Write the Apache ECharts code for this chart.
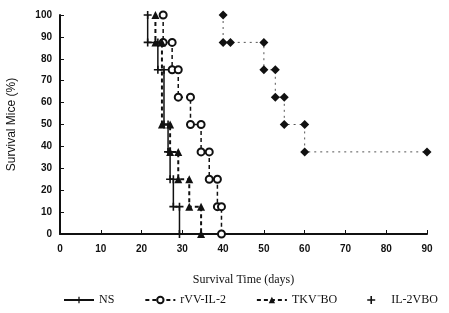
<!DOCTYPE html>
<html>
<head>
<meta charset="utf-8">
<script src="https://cdn.jsdelivr.net/npm/echarts@6/dist/echarts.min.js"></script>
<style>
  html, body { margin: 0; padding: 0; background: #fff; }
  #chart { width: 449px; height: 313px; }
</style>
</head>
<body>
<div id="chart"></div>
<script>
// step points of each survival curve (day, % surviving)
const nsDays   = [21.5, 21.5, 24, 24, 25.5, 25.5, 26.5, 26.5, 27, 27, 27.8, 27.8, 29.3, 29.3];
const nsSurv   = [100, 87.5, 87.5, 75, 75, 50, 50, 37.5, 37.5, 25, 25, 12.5, 12.5, 0];
const rvvDays  = [25.3, 25.3, 27.5, 27.5, 29, 29, 32, 32, 34.6, 34.6, 36.6, 36.6, 38.6, 38.6, 39.6, 39.6];
const rvvSurv  = [100, 87.5, 87.5, 75, 75, 62.5, 62.5, 50, 50, 37.5, 37.5, 25, 25, 12.5, 12.5, 0];
const tkvDays  = [23.4, 23.4, 25, 25, 27, 27, 29, 29, 31.7, 31.7, 34.6, 34.6];
const tkvSurv  = [100, 87.5, 87.5, 50, 50, 37.5, 37.5, 25, 25, 12.5, 12.5, 0];
const il2Days  = [40, 40, 41.8, 50, 50, 52.8, 52.8, 55, 55, 60, 60, 90];
const il2Surv  = [100, 87.5, 87.5, 87.5, 75, 75, 62.5, 62.5, 50, 50, 37.5, 37.5];
const names = ['NS', 'rVV-IL-2', 'TKV\u207BBO', 'IL-2VBO'];

const plus = 'path://M4,0h2v4h4v2h-4v4h-2v-4h-4v-2h4z';
const zip = (xs, ys) => xs.map((x, i) => [x, ys[i]]);

const chart = echarts.init(document.getElementById('chart'));
let option = {
  animation: false,
  grid: { left: 60, right: 22, top: 15, bottom: 79, containLabel: false, outerBoundsMode: 'none' },
  legend: {
    left: 58,
    top: 289,
    itemWidth: 30,
    itemHeight: 8,
    itemGap: 30,
    textStyle: { fontFamily: 'Liberation Serif', fontSize: 12, color: '#111' },
    data: [
      { name: names[0] },
      { name: names[1] },
      { name: names[2] },
      { name: names[3], icon: plus, itemStyle: { color: '#111' } }
    ]
  },
  xAxis: {
    type: 'value',
    min: 0, max: 90, interval: 10,
    name: 'Survival Time (days)',
    nameLocation: 'middle',
    nameGap: 40,
    nameTextStyle: { fontFamily: 'Liberation Serif', fontSize: 12, color: '#111' },
    axisLine: { lineStyle: { color: '#111', width: 2 } },
    axisTick: { inside: true, length: 4, lineStyle: { color: '#111' } },
    axisLabel: { margin: 10, fontFamily: 'Liberation Sans', fontWeight: 'bold', fontSize: 10, color: '#111' },
    splitLine: { show: false }
  },
  yAxis: {
    type: 'value',
    min: 0, max: 100, interval: 10,
    name: 'Survival Mice (%)',
    nameLocation: 'middle',
    nameGap: 42,
    nameTextStyle: { fontFamily: 'Liberation Sans', fontSize: 12, color: '#111' },
    axisLine: { show: true, lineStyle: { color: '#111', width: 2 } },
    axisTick: { show: true, inside: true, length: 4, lineStyle: { color: '#111' } },
    axisLabel: { margin: 8, fontFamily: 'Liberation Sans', fontWeight: 'bold', fontSize: 10, color: '#111' },
    splitLine: { show: false }
  },
  series: [
    {
      name: names[0], type: 'line', data: zip(nsDays, nsSurv),
      symbol: plus, symbolSize: 8,
      itemStyle: { color: '#111' },
      lineStyle: { color: '#111', width: 1.5, type: 'solid' }
    },
    {
      name: names[1], type: 'line', data: zip(rvvDays, rvvSurv),
      symbol: 'emptyCircle', symbolSize: 7,
      itemStyle: { color: '#111', borderWidth: 1.5 },
      lineStyle: { color: '#111', width: 1.5, type: [4, 3] }
    },
    {
      name: names[2], type: 'line', data: zip(tkvDays, tkvSurv),
      symbol: 'triangle', symbolSize: 8,
      itemStyle: { color: '#111' },
      lineStyle: { color: '#111', width: 2, type: [4, 3] }
    },
    {
      name: names[3], type: 'line', data: zip(il2Days, il2Surv),
      symbol: 'diamond', symbolSize: 9,
      itemStyle: { color: '#111' },
      lineStyle: { color: '#555', width: 1, type: [2, 4] }
    }
  ]
};
chart.setOption(option);
</script>
</body>
</html>
